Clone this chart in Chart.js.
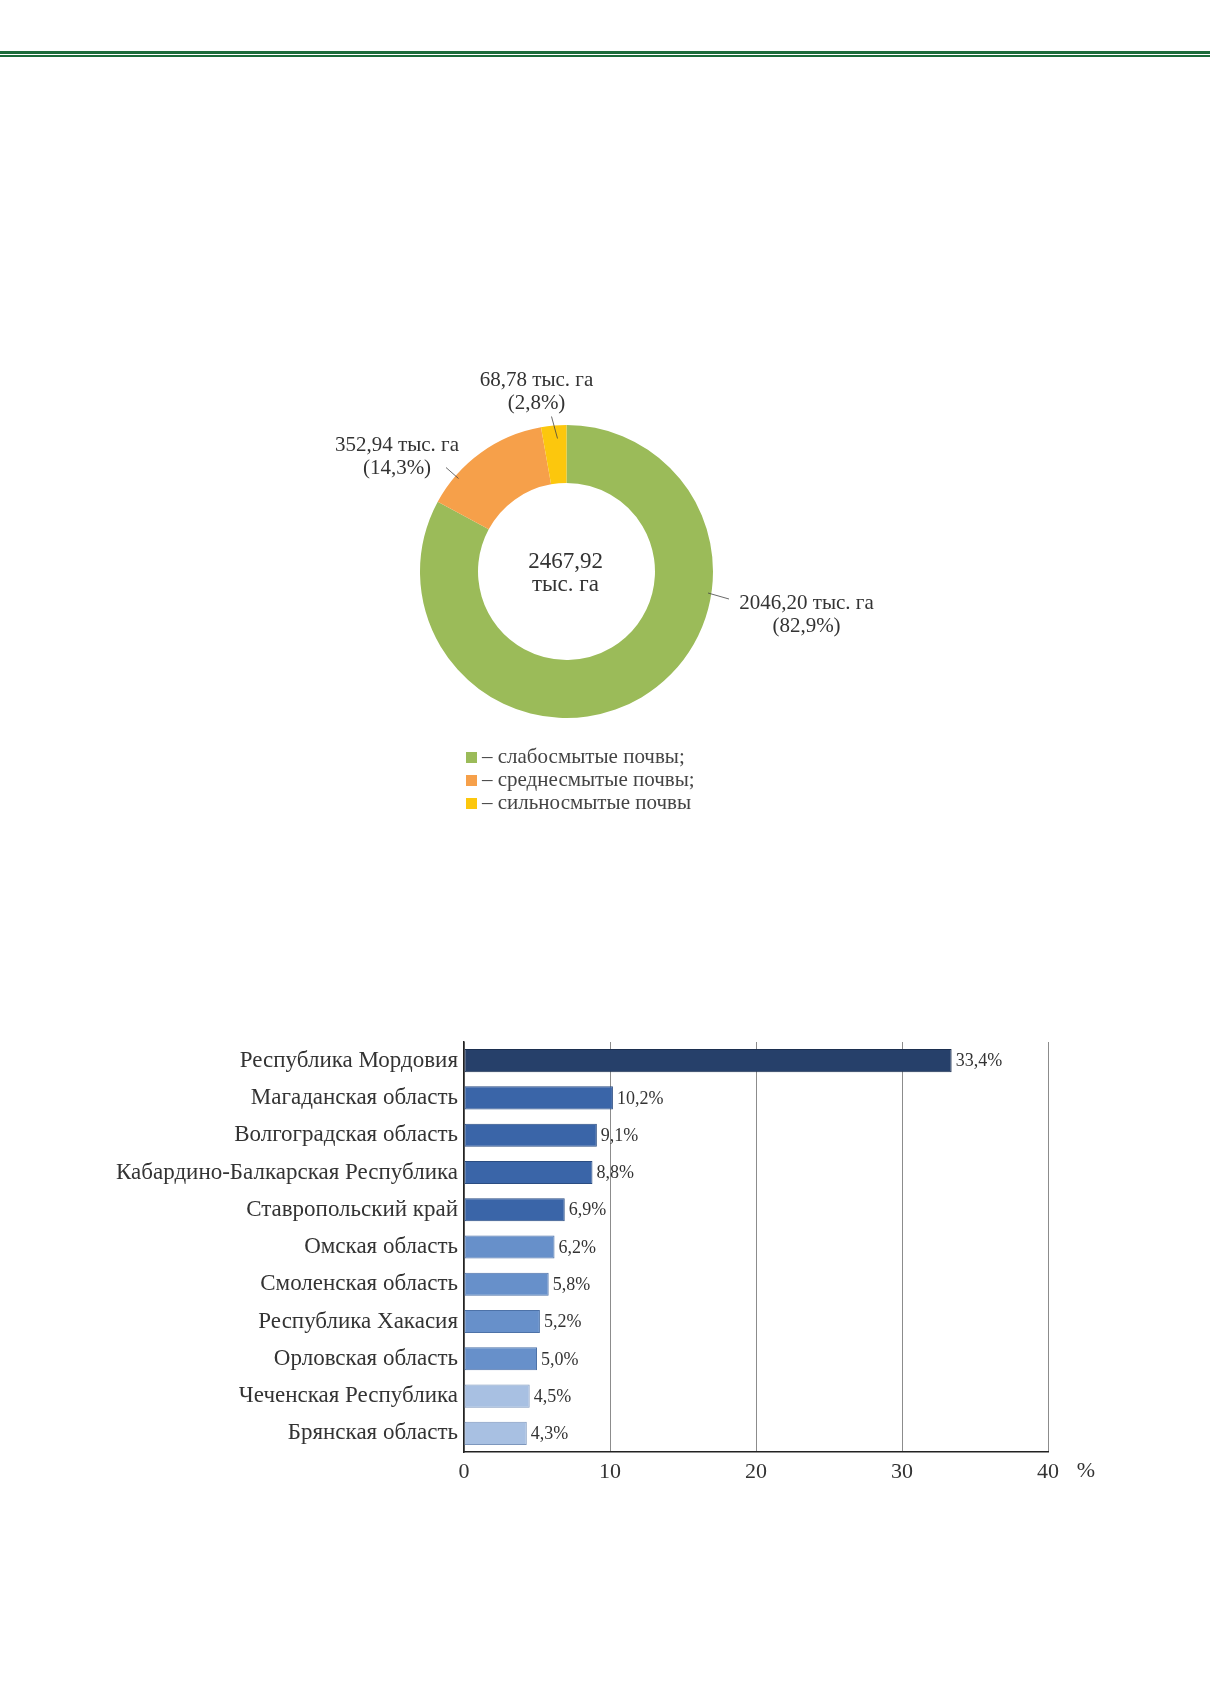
<!DOCTYPE html>
<html>
<head>
<meta charset="utf-8">
<script src="https://cdn.jsdelivr.net/npm/chart.js@4.4.1/dist/chart.umd.min.js"></script>
<style>
  body { margin: 0; background: #fff; width: 1210px; height: 1681px; position: relative; overflow: hidden;
         font-family: 'Liberation Serif', 'Times New Roman', serif; color: #333; }
  .rule { position: absolute; left: 0; width: 1210px; background: #1b6b3a; }
  #pieBox { position: absolute; left: 300px; top: 340px; width: 600px; height: 420px; }
  #barBox { position: absolute; left: 0; top: 1000px; width: 1210px; height: 500px; }
  #legend { position: absolute; left: 466px; top: 745px; font-size: 21px; line-height: 23px; color: #444; }
  #legend .sw { display: inline-block; width: 11px; height: 11px; margin-right: 5px; vertical-align: 0; }
</style>
</head>
<body>
<div class="rule" style="top:51px;height:3px"></div>
<div class="rule" style="top:55px;height:1.5px"></div>

<div id="pieBox"><canvas id="soil-chart"></canvas></div>
<div id="legend"></div>
<div id="barBox"><canvas id="region-chart"></canvas></div>

<script>
// площади смытых почв, тыс. га
const soilTypes = ['слабосмытые почвы', 'среднесмытые почвы', 'сильносмытые почвы']
const soilArea = [2046.20, 352.94, 68.78]

// доля регионов, %
const regions = [
  'Республика Мордовия',
  'Магаданская область',
  'Волгоградская область',
  'Кабардино-Балкарская Республика',
  'Ставропольский край',
  'Омская область',
  'Смоленская область',
  'Республика Хакасия',
  'Орловская область',
  'Чеченская Республика',
  'Брянская область',
]
const regionShare = [33.4, 10.2, 9.1, 8.8, 6.9, 6.2, 5.8, 5.2, 5.0, 4.5, 4.3]
const shareTicks = [0, 10, 20, 30, 40]

// styles
const soilColors = ['#9bbb59', '#f6a04a', '#fcc70d']
const barColors = ['#26406a', '#3a65a8', '#3a65a8', '#3a65a8', '#3a65a8',
  '#6790ca', '#6790ca', '#6790ca', '#6790ca', '#a8c0e2', '#a8c0e2']
const barBorders = ['#1c2f50', '#2b4d82', '#2b4d82', '#2b4d82', '#2b4d82',
  '#4d72a8', '#4d72a8', '#4d72a8', '#4d72a8', '#7d97bd', '#7d97bd']
// label layout around the ring, offsets from its centre
const soilLabelPos = [
  { line: [[141.5, 21.5], [162.5, 27.5]], text: [240, 31.5] },
  { line: [[-120.5, -104], [-108, -93]], text: [-169.5, -126.5] },
  { line: [[-15, -155], [-9, -133]], text: [-30, -191.5] },
]

const fmt = (v, d) => v.toFixed(d).replace('.', ',')
const SERIF = "'Liberation Serif', 'Times New Roman', serif"

const soilTotal = soilArea.reduce((a, b) => a + b, 0)

const ringLabels = {
  id: 'ringLabels',
  afterDraw(chart) {
    const ctx = chart.ctx
    const arcs = chart.getDatasetMeta(0).data
    const cx = arcs[0].x, cy = arcs[0].y
    ctx.save()
    ctx.fillStyle = '#333'
    ctx.strokeStyle = '#444'
    ctx.lineWidth = 0.8
    ctx.textAlign = 'center'
    ctx.textBaseline = 'middle'
    soilArea.forEach((v, i) => {
      const p = soilLabelPos[i]
      ctx.beginPath()
      ctx.moveTo(cx + p.line[0][0], cy + p.line[0][1])
      ctx.lineTo(cx + p.line[1][0], cy + p.line[1][1])
      ctx.stroke()
      ctx.font = `21px ${SERIF}`
      ctx.fillText(`${fmt(v, 2)} тыс. га`, cx + p.text[0], cy + p.text[1])
      ctx.fillText(`(${fmt(v / soilTotal * 100, 1)}%)`, cx + p.text[0], cy + p.text[1] + 23.5)
    })
    ctx.font = `23px ${SERIF}`
    ctx.fillText(fmt(soilTotal, 2), cx - 1, cy - 10)
    ctx.fillText('тыс. га', cx - 1, cy + 13)
    ctx.restore()
  },
}

new Chart(document.querySelector('#soil-chart'), {
  type: 'doughnut',
  data: {
    labels: soilTypes,
    datasets: [{ data: soilArea, backgroundColor: soilColors, borderWidth: 0 }],
  },
  options: {
    responsive: true,
    maintainAspectRatio: false,
    animation: false,
    cutout: '60.4%',
    layout: { padding: { left: 120, right: 187, top: 85, bottom: 42 } },
    plugins: { legend: { display: false }, tooltip: { enabled: false } },
  },
  plugins: [ringLabels],
})

// legend under the ring
const legendBox = document.querySelector('#legend')
soilTypes.forEach((name, i) => {
  const row = document.createElement('div')
  const sw = document.createElement('span')
  sw.className = 'sw'
  sw.style.background = soilColors[i]
  row.appendChild(sw)
  row.appendChild(document.createTextNode(`– ${name}${i < soilTypes.length - 1 ? ';' : ''}`))
  legendBox.appendChild(row)
})

const barValues = {
  id: 'barValues',
  afterDatasetsDraw(chart) {
    const ctx = chart.ctx
    const xs = chart.scales.x
    ctx.save()
    ctx.fillStyle = '#333'
    ctx.font = `18px ${SERIF}`
    ctx.textBaseline = 'middle'
    chart.getDatasetMeta(0).data.forEach((bar, i) => {
      ctx.fillText(`${fmt(regionShare[i], 1)}%`, bar.x + 4, bar.y + 1)
    })
    ctx.font = `22px ${SERIF}`
    ctx.textAlign = 'center'
    ctx.fillText('%', xs.getPixelForValue(shareTicks[shareTicks.length - 1]) + 38, xs.top + 19)
    ctx.restore()
  },
}

new Chart(document.querySelector('#region-chart'), {
  type: 'bar',
  data: {
    labels: regions,
    datasets: [{
      data: regionShare,
      backgroundColor: barColors,
      borderColor: barBorders,
      borderWidth: 1,
      borderSkipped: false,
      categoryPercentage: 1,
      barPercentage: 0.62,
    }],
  },
  options: {
    indexAxis: 'y',
    responsive: true,
    maintainAspectRatio: false,
    animation: false,
    layout: { padding: { left: 0, right: 162, top: 42, bottom: 0 } },
    plugins: { legend: { display: false }, tooltip: { enabled: false } },
    scales: {
      x: {
        min: shareTicks[0],
        max: shareTicks[shareTicks.length - 1],
        afterBuildTicks: (s) => { s.ticks = shareTicks.map((v) => ({ value: v })) },
        afterFit: (s) => { s.height = 48 },
        grid: { color: '#8c8c8c', lineWidth: 1, drawTicks: false },
        border: { display: true, color: '#222', width: 1.5 },
        ticks: { color: '#333', padding: 7, font: { family: SERIF, size: 22 } },
      },
      y: {
        afterFit: (s) => { s.width = 464 },
        grid: { display: false, drawTicks: false },
        border: { display: true, color: '#222', width: 1.5 },
        ticks: { color: '#333', padding: 6, font: { family: SERIF, size: 23 } },
      },
    },
  },
  plugins: [barValues],
})
</script>
</body>
</html>
